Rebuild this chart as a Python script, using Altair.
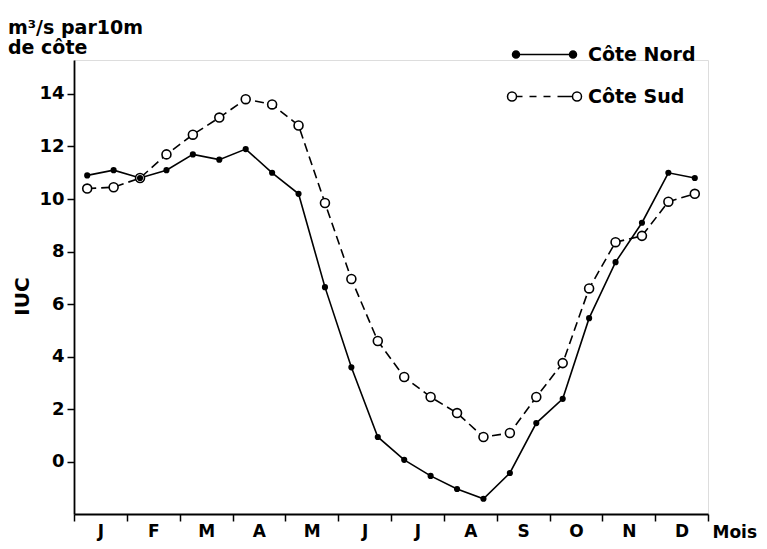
import altair as alt
import pandas as pd

# ---- data ----
months = ["J", "F", "M", "A", "M", "J", "J", "A", "S", "O", "N", "D"]
# two values per month, at the middle of each fortnight (in months from 1 January)
t = [0.25, 0.75, 1.25, 1.75, 2.25, 2.75, 3.25, 3.75, 4.25, 4.75, 5.25, 5.75,
     6.25, 6.75, 7.25, 7.75, 8.25, 8.75, 9.25, 9.75, 10.25, 10.75, 11.25, 11.75]
cote_nord = [10.9, 11.1, 10.8, 11.1, 11.7, 11.5, 11.9, 11.0, 10.2, 6.65, 3.6, 0.95,
             0.08, -0.53, -1.03, -1.4, -0.42, 1.48, 2.4, 5.47, 7.6, 9.1, 11.0, 10.8]
cote_sud = [10.4, 10.45, 10.8, 11.7, 12.45, 13.1, 13.8, 13.6, 12.8, 9.85, 6.96, 4.6,
            3.23, 2.47, 1.86, 0.95, 1.1, 2.47, 3.76, 6.6, 8.36, 8.6, 9.9, 10.2]
series_names = ["Côte Nord", "Côte Sud"]
y_ticks = [0, 2, 4, 6, 8, 10, 12, 14]

df_nord = pd.DataFrame({"t": t, "v": cote_nord, "s": series_names[0]})
df_sud = pd.DataFrame({"t": t, "v": cote_sud, "s": series_names[1]})
df_all = pd.concat([df_nord, df_sud], ignore_index=True)

FONT = "DejaVu Sans"
W, H = 634, 454

month_expr = "[" + ",".join("'%s'" % m for m in months) + ",''][datum.value]"

x_enc = alt.X(
    "t:Q",
    scale=alt.Scale(domain=[0, 12], nice=False, zero=False),
    axis=alt.Axis(
        values=list(range(13)), labelExpr=month_expr, labelOffset=W / 24,
        tickSize=7, tickColor="black", tickWidth=1.5,
        domainColor="black", domainWidth=1.8, grid=False,
        labelFont=FONT, labelFontSize=17, labelFontWeight="bold", labelColor="black",
        labelPadding=2, labelAlign="center",
        title="Mois", titleFont=FONT, titleFontSize=17, titleFontWeight="bold",
        titleColor="black", titleX=638, titleY=23, titleAlign="left",
        titleBaseline="alphabetic",
    ),
)
y_enc = alt.Y(
    "v:Q",
    scale=alt.Scale(domain=[-1.98, 15.29], nice=False, zero=False),
    axis=alt.Axis(
        values=y_ticks, tickSize=7, tickColor="black", tickWidth=1.5,
        domainColor="black", domainWidth=1.8, grid=False,
        labelFont=FONT, labelFontSize=18, labelFontWeight="bold", labelColor="black",
        labelPadding=3,
        title="IUC", titleFont=FONT, titleFontSize=20, titleFontWeight="bold",
        titleColor="black", titleX=-52, titleY=236, titleAlign="center",
        titleBaseline="middle",
    ),
)

line_nord = alt.Chart(df_nord).mark_line(color="black", strokeWidth=1.6).encode(x=x_enc, y=y_enc)
line_sud = alt.Chart(df_sud).mark_line(color="black", strokeWidth=1.6, strokeDash=[9, 5]).encode(x=x_enc, y=y_enc)
pts_sud = alt.Chart(df_sud).mark_point(
    shape="circle", filled=True, fill="white", stroke="black", strokeWidth=1.6,
    size=80, opacity=1,
).encode(x=x_enc, y=y_enc)
pts_nord = alt.Chart(df_nord).mark_point(
    shape="circle", filled=True, color="black", size=38, opacity=1,
).encode(x=x_enc, y=y_enc)

# legend symbols: a line with a marker at each end (path in pixels, symbolSize=4 -> scale 1)
path_nord = ("M-28.5,0L28.5,0"
             "M-32,0A3.5,3.5 0 1,0 -25,0A3.5,3.5 0 1,0 -32,0Z"
             "M25,0A3.5,3.5 0 1,0 32,0A3.5,3.5 0 1,0 25,0Z")
path_sud = ("M-28,0L-22,0M-15,0L-8,0M-1,0L6,0M13,0L28,0"
            "M-37,0A4.5,4.5 0 1,0 -28,0A4.5,4.5 0 1,0 -37,0Z"
            "M28,0A4.5,4.5 0 1,0 37,0A4.5,4.5 0 1,0 28,0Z")

legend_def = alt.Legend(
    title=None, orient="none", legendX=461, legendY=-15, padding=0,
    symbolSize=4, symbolStrokeWidth=1.5, symbolStrokeColor="black",
    symbolOpacity=1, labelOffset=34, rowPadding=22,
    labelFont=FONT, labelFontSize=19, labelFontWeight="bold", labelColor="black",
    labelLimit=300,
)

legend_layer = alt.Chart(df_all).transform_filter("false").mark_point(
    filled=False, strokeWidth=1.5, opacity=1,
).encode(
    shape=alt.Shape(
        "s:N",
        scale=alt.Scale(domain=series_names, range=[path_nord, path_sud]),
        legend=legend_def,
    ),
    fill=alt.Fill(
        "s:N",
        scale=alt.Scale(domain=series_names, range=["black", "white"]),
        legend=legend_def,
    ),
    stroke=alt.Stroke(
        "s:N",
        scale=alt.Scale(domain=series_names, range=["black", "black"]),
        legend=legend_def,
    ),
)

chart = alt.layer(line_nord, line_sud, pts_sud, pts_nord, legend_layer).properties(
    width=W, height=H,
    autosize=alt.AutoSizeParams(type="none"),
    padding={"left": 66, "top": 52, "right": 51, "bottom": 27},
    title=alt.TitleParams(
        text=["m³/s par10m", "\u00a0de côte"], anchor="start", frame="group",
        font=FONT, fontSize=19, fontWeight="bold", color="black", lineHeight=20,
        dx=-66, dy=17, offset=4,
    ),
).configure_view(stroke=None).configure(background="white")

chart.save("out.html", embed_options={"renderer": "svg", "actions": False})
